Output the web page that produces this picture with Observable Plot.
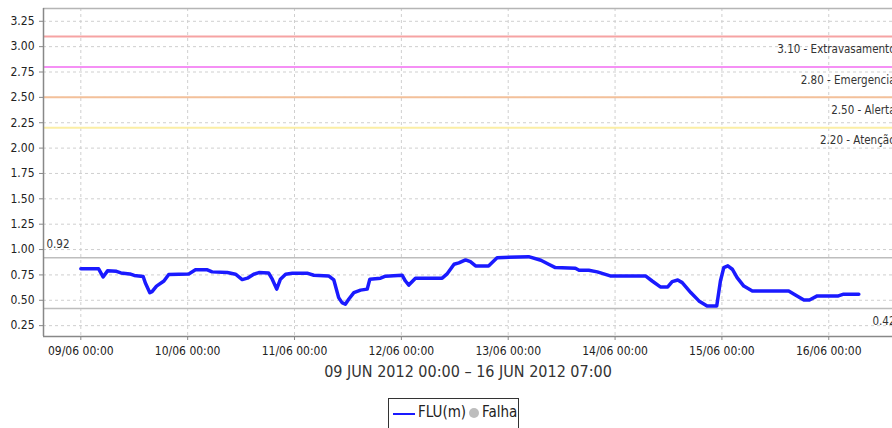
<!DOCTYPE html>
<html>
<head>
<meta charset="utf-8">
<script src="https://cdn.jsdelivr.net/npm/d3@7"></script>
<script src="https://cdn.jsdelivr.net/npm/@observablehq/plot@0.6"></script>
<style>
  html, body { margin: 0; padding: 0; background: #fff; overflow: hidden; }
  body { width: 892px; height: 428px; position: relative; font-family: "DejaVu Sans Condensed", "DejaVu Sans", sans-serif; font-stretch: condensed; }
  #chart svg { display: block; }
  #legend { position: absolute; left: 388px; top: 398px; width: 131px; height: 36px; border: 1px solid #333; box-sizing: border-box; font-size: 15px; color: #222; }
  #legend .sw { position: absolute; left: 4px; top: 14px; width: 22px; height: 2px; background: #1a1aff; }
  #legend .l1 { position: absolute; left: 29px; top: 4px; }
  #legend .dot { position: absolute; left: 80px; top: 9px; width: 10px; height: 10px; border-radius: 50%; background: #bdbdbd; }
  #legend .l2 { position: absolute; left: 93px; top: 4px; }
</style>
</head>
<body>
<div id="chart"></div>
<div id="legend"><span class="sw"></span><span class="l1">FLU(m)</span><span class="dot"></span><span class="l2">Falha</span></div>
<script>
// ---- data ----
const times = [
  "2012-06-09T00:00","2012-06-09T04:00","2012-06-09T05:00","2012-06-09T06:00","2012-06-09T08:00",
  "2012-06-09T09:00","2012-06-09T11:00","2012-06-09T12:00","2012-06-09T14:00","2012-06-09T14:30",
  "2012-06-09T15:30","2012-06-09T16:00","2012-06-09T17:00","2012-06-09T18:40","2012-06-09T19:45",
  "2012-06-10T00:15","2012-06-10T01:45","2012-06-10T04:25","2012-06-10T05:30","2012-06-10T08:55",
  "2012-06-10T10:45","2012-06-10T12:15","2012-06-10T13:25","2012-06-10T14:50","2012-06-10T16:00",
  "2012-06-10T18:10","2012-06-10T19:00","2012-06-10T20:00","2012-06-10T20:50","2012-06-10T22:00",
  "2012-06-10T23:30","2012-06-11T02:50","2012-06-11T04:20","2012-06-11T07:40","2012-06-11T08:50",
  "2012-06-11T09:55","2012-06-11T10:40","2012-06-11T11:25","2012-06-11T12:10","2012-06-11T13:20",
  "2012-06-11T14:50","2012-06-11T16:20","2012-06-11T16:55","2012-06-11T19:20","2012-06-11T20:25",
  "2012-06-12T00:10","2012-06-12T00:55","2012-06-12T01:40","2012-06-12T03:10","2012-06-12T09:10",
  "2012-06-12T10:20","2012-06-12T11:50","2012-06-12T12:55","2012-06-12T14:25","2012-06-12T15:30",
  "2012-06-12T16:40","2012-06-12T19:35","2012-06-12T21:30","2012-06-13T04:35","2012-06-13T07:20",
  "2012-06-13T09:05","2012-06-13T10:35","2012-06-13T15:05","2012-06-13T15:55","2012-06-13T18:05",
  "2012-06-13T20:00","2012-06-13T22:55","2012-06-14T06:50","2012-06-14T08:20","2012-06-14T10:10",
  "2012-06-14T11:50","2012-06-14T12:50","2012-06-14T14:05","2012-06-14T15:05","2012-06-14T17:00",
  "2012-06-14T18:50","2012-06-14T20:40","2012-06-14T22:50","2012-06-14T23:40","2012-06-15T00:25",
  "2012-06-15T01:20","2012-06-15T02:20","2012-06-15T03:25","2012-06-15T04:55","2012-06-15T06:50",
  "2012-06-15T15:00","2012-06-15T16:30","2012-06-15T18:25","2012-06-15T19:40","2012-06-15T21:25",
  "2012-06-16T02:10","2012-06-16T03:20","2012-06-16T06:45"
];
const levels = [
  0.81,0.81,0.73,0.79,0.785,
  0.77,0.76,0.745,0.735,0.67,
  0.575,0.585,0.64,0.69,0.755,
  0.76,0.80,0.80,0.78,0.773,
  0.757,0.704,0.718,0.757,0.773,
  0.77,0.708,0.61,0.708,0.757,
  0.767,0.767,0.747,0.74,0.70,
  0.526,0.477,0.461,0.51,0.576,
  0.60,0.61,0.708,0.718,0.737,
  0.747,0.69,0.65,0.718,0.718,
  0.763,0.855,0.869,0.898,0.88,
  0.839,0.839,0.92,0.93,0.895,
  0.855,0.822,0.816,0.796,0.796,
  0.78,0.74,0.74,0.69,0.632,
  0.632,0.684,0.70,0.674,0.576,
  0.494,0.444,0.444,0.69,0.822,
  0.839,0.806,0.724,0.64,0.592,
  0.592,0.553,0.503,0.503,0.543,
  0.543,0.56,0.56
];
const thresholdValues = [3.10, 2.80, 2.50, 2.20];
const thresholdLabels = ["3.10 - Extravasamento", "2.80 - Emergencia", "2.50 - Alerta", "2.20 - Atenção"];
const thresholdColors = ["#f6a3a3", "#f590f5", "#f3c09a", "#fbeea5"];
const maxValue = 0.92;
const minValue = 0.42;
const yTickValues = [0.25,0.50,0.75,1.00,1.25,1.50,1.75,2.00,2.25,2.50,2.75,3.00,3.25];
const xTickLabels = ["09/06 00:00","10/06 00:00","11/06 00:00","12/06 00:00","13/06 00:00","14/06 00:00","15/06 00:00","16/06 00:00"];
const xTickDates = ["2012-06-09","2012-06-10","2012-06-11","2012-06-12","2012-06-13","2012-06-14","2012-06-15","2012-06-16"];
const xDomain = ["2012-06-08T15:37:00Z", "2012-06-16T14:19:00Z"];
const yDomain = [0.143, 3.376];
const axisTitle = "09 JUN 2012 00:00 – 16 JUN 2012 07:00";

// ---- build ----
const data = times.map((t, i) => ({t: new Date(t + ":00Z"), v: levels[i]}));
const thresholds = thresholdValues.map((v, i) => ({v, label: thresholdLabels[i], color: thresholdColors[i]}));
const xTicks = xTickDates.map(d => new Date(d + "T00:00:00Z"));
const xStart = new Date(xDomain[0]);
const xEnd = new Date(xDomain[1]);
const fmtX = d3.utcFormat("%d/%m %H:%M");

const font = '"DejaVu Sans Condensed", "DejaVu Sans", sans-serif';

const chart = Plot.plot({
  width: 892,
  height: 392,
  marginTop: 8,
  marginLeft: 43,
  marginRight: 0,
  marginBottom: 56,
  style: {fontFamily: font, fontSize: "12px", color: "#333", background: "#fff"},
  x: {type: "utc", domain: [xStart, xEnd]},
  y: {domain: yDomain},
  marks: [
    Plot.gridX(xTicks, {stroke: "#cfcfcf", strokeOpacity: 1, strokeDasharray: "3,3"}),
    Plot.gridY(yTickValues, {stroke: "#cfcfcf", strokeOpacity: 1, strokeDasharray: "3,3"}),
    Plot.ruleY([yDomain[1]], {stroke: "#b5b5b5", strokeWidth: 1.5}),
    Plot.ruleY(thresholds, {y: "v", stroke: "color", strokeWidth: 2}),
    Plot.text(thresholds, {x: () => xEnd, y: "v", text: "label", textAnchor: "end", dx: 3, dy: 13, fill: "#333", fontSize: 11.5}),
    Plot.ruleY([maxValue, minValue], {stroke: "#bdbdbd", strokeWidth: 1.5}),
    Plot.text([maxValue], {x: () => xStart, y: d => d, text: d => d.toFixed(2), textAnchor: "start", dx: 3, dy: -13, fill: "#333", fontSize: 11.5}),
    Plot.text([minValue], {x: () => xEnd, y: d => d, text: d => d.toFixed(2), textAnchor: "end", dx: 3, dy: 13, fill: "#333", fontSize: 11.5}),
    Plot.line(data, {x: "t", y: "v", stroke: "#1a1aff", strokeWidth: 3.5, strokeLinejoin: "round"}),
    Plot.ruleX([xStart], {stroke: "#888", strokeWidth: 1.5}),
    Plot.ruleY([yDomain[0]], {stroke: "#888", strokeWidth: 1.5}),
    Plot.axisY({ticks: yTickValues, tickFormat: d3.format(".2f"), tickSize: 4, tickPadding: 5, label: null, stroke: "#888", fill: "#222", fontSize: 12}),
    Plot.axisX({ticks: xTicks, tickFormat: (d, i) => xTickLabels[i], tickSize: 4, tickPadding: 6, label: null, stroke: "#888", fill: "#222", fontSize: 12}),
    Plot.text([axisTitle], {frameAnchor: "bottom", dy: 40, text: d => d, fontSize: 16, fill: "#333"})
  ]
});
document.getElementById("chart").appendChild(chart);
</script>
</body>
</html>
